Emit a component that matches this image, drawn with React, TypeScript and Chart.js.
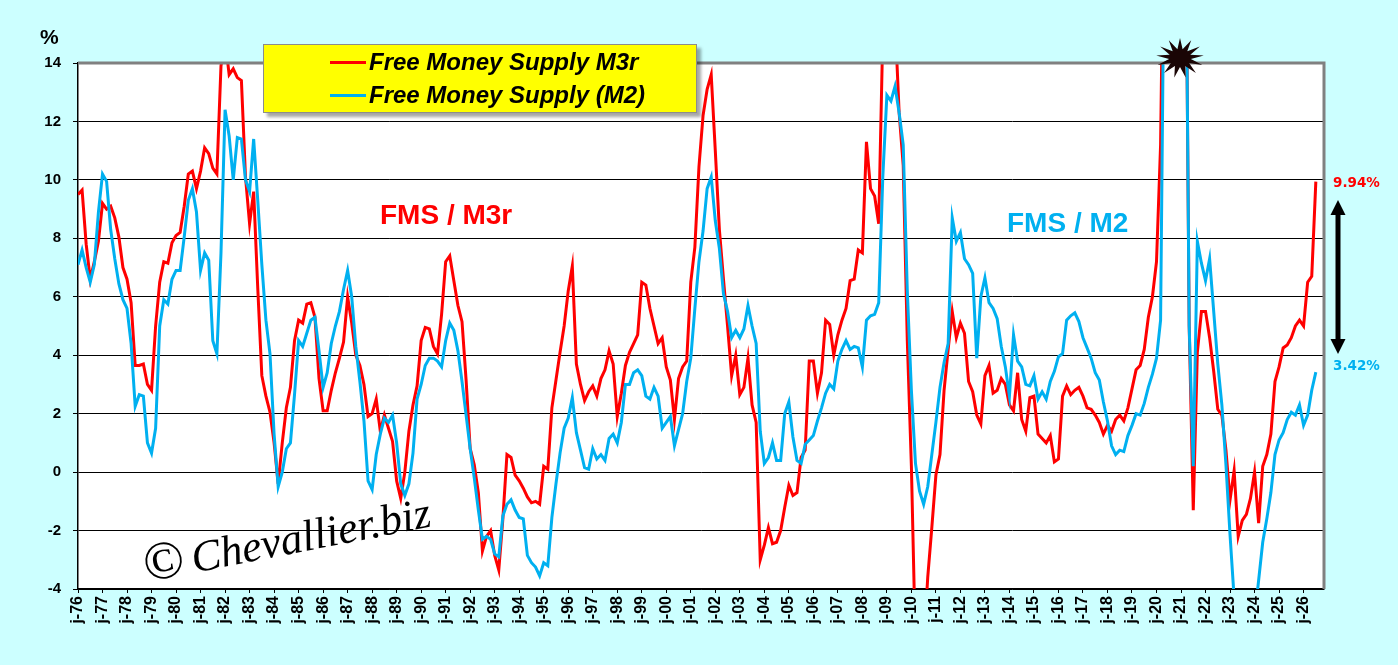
import { useEffect, useRef } from 'react'
import { Chart, registerables } from 'chart.js'

Chart.register(...registerables)

// bimonthly readings from Jan 1976, % y/y
const fmsM3r = [
  9.5, 9.65, 7.8, 6.6, 7.2, 7.9, 9.2, 9.0, 9.1, 8.7, 8.05, 7.0, 6.6, 5.8, 3.65, 3.65, 3.7, 3.0, 2.8, 5.0,
  6.5, 7.2, 7.15, 7.85, 8.1, 8.2, 9.1, 10.2, 10.3, 9.7, 10.3, 11.1, 10.9, 10.4, 10.2, 13.9, 14.8, 13.6, 13.8, 13.5,
  13.4, 10.1, 8.5, 9.6, 6.3, 3.3, 2.6, 2.05, 1.0, -0.4, 1.0, 2.2, 2.9, 4.5, 5.2, 5.1, 5.75, 5.8, 5.3, 3.2,
  2.1, 2.1, 2.8, 3.4, 3.9, 4.45, 6.0, 5.1, 4.0, 3.65, 3.0, 1.9, 2.0, 2.5, 1.4, 1.95, 1.5, 1.05, -0.3, -0.9,
  0.0, 1.4, 2.3, 2.95, 4.5, 4.95, 4.9, 4.3, 4.05, 5.4, 7.2, 7.4, 6.55, 5.7, 5.15, 3.15, 0.8, 0.25, -0.7, -2.7,
  -2.2, -2.0, -2.85, -3.35, -1.6, 0.6, 0.5, -0.1, -0.3, -0.55, -0.85, -1.05, -1.0, -1.1, 0.2, 0.1, 2.2, 3.15, 4.1, 5.0,
  6.2, 7.05, 3.7, 3.0, 2.45, 2.75, 2.95, 2.6, 3.2, 3.5, 4.15, 3.7, 1.9, 2.7, 3.65, 4.1, 4.4, 4.7, 6.5, 6.4,
  5.6, 5.0, 4.4, 4.6, 3.6, 3.15, 1.8, 3.2, 3.6, 3.8, 6.5, 7.7, 10.45, 12.2, 13.1, 13.6, 11.0, 8.3, 6.6, 5.0,
  3.3, 4.0, 2.65, 2.9, 3.9, 2.3, 1.7, -3.0, -2.5, -1.9, -2.45, -2.4, -2.0, -1.2, -0.45, -0.8, -0.7, 0.5, 0.75, 3.8,
  3.8, 2.7, 3.4, 5.2, 5.05, 4.0, 4.7, 5.2, 5.6, 6.55, 6.6, 7.6, 7.5, 11.3, 9.7, 9.45, 8.5, 15, 17, 17,
  15.5, 12.3, 10.5, 4.5, 0.2, -6, -6, -6, -3.6, -1.9, -0.1, 0.6, 2.8, 4.2, 5.5, 4.6, 5.1, 4.75, 3.1, 2.75,
  1.95, 1.65, 3.3, 3.65, 2.7, 2.8, 3.2, 3.0, 2.3, 2.1, 3.4, 1.8, 1.4, 2.55, 2.6, 1.3, 1.15, 1.0, 1.25, 0.35,
  0.45, 2.6, 2.95, 2.65, 2.8, 2.9, 2.6, 2.2, 2.15, 1.95, 1.7, 1.3, 1.6, 1.4, 1.8, 1.95, 1.75, 2.2, 2.85, 3.5,
  3.65, 4.2, 5.3, 6.0, 7.2, 11.2, 22, 26, 28, 28, 26, 22, 5, -1.3, 4.1, 5.5, 5.5, 4.6, 3.45, 2.15,
  1.95, 0.75, -0.95, 0.05, -2.2, -1.65, -1.45, -0.9, 0.0, -1.75, 0.2, 0.6, 1.3, 3.1, 3.6, 4.25, 4.35, 4.6, 5.0, 5.2,
  5.0, 6.5, 6.7, 9.94,
]

const fmsM2 = [
  7.1, 7.6, 7.0, 6.5, 7.1, 8.9, 10.2, 9.95, 8.3, 7.3, 6.45, 5.9, 5.6, 4.4, 2.25, 2.65, 2.6, 1.0, 0.65, 1.5,
  5.0, 5.9, 5.75, 6.6, 6.9, 6.9, 8.05, 9.3, 9.7, 8.9, 6.9, 7.5, 7.25, 4.5, 4.05, 7.5, 12.4, 11.5, 10.0, 11.45,
  11.4, 10.0, 9.6, 11.4, 9.3, 7.1, 5.2, 4.05, 1.3, -0.5, 0.0, 0.8, 1.0, 2.65, 4.5, 4.3, 4.75, 5.2, 5.3, 4.15,
  2.9, 3.4, 4.4, 5.0, 5.5, 6.25, 6.9, 6.0, 4.3, 3.1, 1.75, -0.3, -0.6, 0.6, 1.3, 1.85, 1.7, 1.95, 1.0, -0.4,
  -0.8, -0.4, 0.65, 2.5, 3.0, 3.65, 3.9, 3.9, 3.8, 3.6, 4.5, 5.1, 4.85, 4.15, 3.1, 1.95, 0.8, -0.2, -1.3, -2.3,
  -2.2, -2.3, -2.8, -2.9, -1.5, -1.1, -0.95, -1.3, -1.55, -1.6, -2.85, -3.1, -3.25, -3.55, -3.1, -3.2, -1.55, -0.4, 0.65, 1.5,
  1.85, 2.55, 1.35, 0.75, 0.15, 0.1, 0.8, 0.45, 0.6, 0.4, 1.15, 1.3, 1.0, 1.7, 3.0, 3.0, 3.4, 3.5, 3.3, 2.6,
  2.5, 2.9, 2.6, 1.5, 1.7, 1.9, 0.9, 1.45, 2.0, 3.1, 3.9, 5.6, 7.2, 8.25, 9.7, 10.1, 8.6, 7.65, 6.1, 5.5,
  4.6, 4.85, 4.6, 4.9, 5.7, 5.0, 4.4, 1.4, 0.3, 0.5, 1.0, 0.4, 0.4, 2.0, 2.4, 1.2, 0.4, 0.3, 0.95, 1.1,
  1.25, 1.75, 2.2, 2.7, 3.0, 2.85, 3.8, 4.2, 4.5, 4.2, 4.3, 4.25, 3.6, 5.2, 5.35, 5.4, 5.8, 10.1, 12.9, 12.7,
  13.2, 12.3, 11.2, 6.2, 2.8, 0.3, -0.65, -1.1, -0.5, 0.6, 1.7, 2.9, 3.75, 4.4, 8.7, 7.9, 8.2, 7.3, 7.1, 6.8,
  3.9, 6.0, 6.65, 5.8, 5.6, 5.25, 4.3, 3.6, 2.6, 4.7, 3.8, 3.6, 3.0, 2.95, 3.3, 2.5, 2.75, 2.5, 3.1, 3.45,
  3.95, 4.05, 5.2, 5.35, 5.45, 5.15, 4.6, 4.25, 3.9, 3.4, 3.15, 2.4, 1.75, 0.9, 0.6, 0.75, 0.7, 1.25, 1.6, 2.0,
  1.95, 2.35, 2.9, 3.35, 3.9, 5.2, 20, 26, 28, 28, 26, 22, 5, 0.2, 7.9, 7.15, 6.55, 7.3, 5.5, 3.7,
  2.3, 0.25, -2.15, -4.3, -6, -6.5, -6.5, -6, -5, -3.7, -2.4, -1.6, -0.7, 0.6, 1.1, 1.35, 1.8, 2.05, 1.95, 2.3,
  1.6, 1.95, 2.8, 3.42,
]

const seriesNames = ['Free Money Supply M3r', 'Free Money Supply (M2)']
const START_YY = 76
const STEP_MONTHS = 2
const yearLabels = Array.from({ length: 51 }, (_, k) => 'j-' + String((START_YY + k) % 100).padStart(2, '0'))

const C = {
  bg: '#CCFFFF',
  red: '#FF0000',
  blue: '#00B0F0',
  frame: '#808080',
  ink: '#000000',
}

const ARIAL = "'Liberation Sans', Arial, sans-serif"
const VERDANA = "'DejaVu Sans', Verdana, sans-serif"

const toPoints = (vals: number[]) => vals.map((y, i) => ({ x: i * STEP_MONTHS, y }))

const plotFrame = {
  id: 'plotFrame',
  beforeDraw(chart: any) {
    const { ctx, chartArea: a } = chart
    ctx.save()
    ctx.fillStyle = '#FFFFFF'
    ctx.fillRect(a.left, a.top, a.right - a.left, a.bottom - a.top)
    ctx.restore()
  },
  afterDatasetsDraw(chart: any) {
    const { ctx, chartArea: a } = chart
    ctx.save()
    ctx.strokeStyle = C.frame
    ctx.lineWidth = 3
    ctx.beginPath()
    ctx.moveTo(a.left, a.top)
    ctx.lineTo(a.right, a.top)
    ctx.lineTo(a.right, a.bottom)
    ctx.stroke()
    ctx.restore()
  },
}

function starPoints(cx: number, cy: number, n: number, rx: number, ry: number, ix: number, iy: number) {
  const pts: string[] = []
  for (let k = 0; k < n * 2; k++) {
    const ang = (Math.PI * k) / n - Math.PI / 2
    const out = k % 2 === 0
    pts.push(`${(cx + Math.cos(ang) * (out ? rx : ix)).toFixed(1)},${(cy + Math.sin(ang) * (out ? ry : iy)).toFixed(1)}`)
  }
  return pts.join(' ')
}

const abs = (left: number, top: number, extra: React.CSSProperties = {}): React.CSSProperties => ({
  position: 'absolute', left, top, whiteSpace: 'nowrap', ...extra,
})

export default function App() {
  const canvasRef = useRef<HTMLCanvasElement>(null)
  const chartRef = useRef<Chart | null>(null)

  useEffect(() => {
    if (!canvasRef.current) return
    if (chartRef.current) { chartRef.current.destroy(); chartRef.current = null }

    chartRef.current = new Chart(canvasRef.current, {
      type: 'line',
      data: {
        datasets: [
          {
            label: seriesNames[0],
            data: toPoints(fmsM3r),
            borderColor: C.red,
            backgroundColor: C.red,
            borderWidth: 3,
            pointRadius: 0,
            order: 1,
          },
          {
            label: seriesNames[1],
            data: toPoints(fmsM2),
            borderColor: C.blue,
            backgroundColor: C.blue,
            borderWidth: 3,
            pointRadius: 0,
            order: 0,
          },
        ],
      },
      options: {
        animation: false,
        responsive: true,
        maintainAspectRatio: false,
        layout: { padding: { top: 63, right: 74, left: 0, bottom: 0 } },
        plugins: { legend: { display: false }, tooltip: { enabled: false } },
        scales: {
          x: {
            type: 'linear',
            min: 0,
            max: 610,
            afterFit: (s: any) => { s.height = 76 },
            afterBuildTicks: (s: any) => { s.ticks = yearLabels.map((_, k) => ({ value: k * 12 })) },
            grid: { display: true, drawOnChartArea: false, drawTicks: true, tickLength: 4, color: C.ink },
            border: { display: true, color: C.ink, width: 1.5 },
            ticks: {
              autoSkip: false,
              minRotation: 90,
              maxRotation: 90,
              padding: 3,
              color: C.ink,
              font: { family: ARIAL, size: 16, weight: 'bold' },
              callback: (v: any) => yearLabels[Math.round(Number(v) / 12)],
            },
          },
          y: {
            min: -4,
            max: 14,
            afterFit: (s: any) => { s.width = 78 },
            grid: { color: C.ink, lineWidth: 1, drawTicks: true, tickLength: 5 },
            border: { display: true, color: C.ink, width: 1.5 },
            ticks: {
              stepSize: 2,
              padding: 12,
              color: C.ink,
              font: { family: ARIAL, size: 15, weight: 'bold' },
            },
          },
        },
      },
      plugins: [plotFrame],
    } as any)

    return () => { chartRef.current?.destroy(); chartRef.current = null }
  }, [])

  const legendText: React.CSSProperties = {
    fontFamily: ARIAL, fontWeight: 'bold', fontStyle: 'italic', fontSize: 24, color: C.ink, lineHeight: '26px',
  }
  const swatch = (color: string): React.CSSProperties => ({ width: 36, height: 3, background: color, marginRight: 3 })
  const bigLabel = (color: string): React.CSSProperties => ({ fontFamily: ARIAL, fontWeight: 'bold', fontSize: 28, color })
  const sideLabel = (color: string): React.CSSProperties => ({ fontFamily: VERDANA, fontWeight: 'bold', fontSize: 13.5, color })

  return (
    <div style={{ position: 'fixed', left: 0, top: 0, width: 1398, height: 665, background: C.bg, overflow: 'hidden' }}>
      <div style={{ position: 'absolute', left: 0, top: 0, width: 1398, height: 665 }}>
        <canvas ref={canvasRef} />
      </div>

      <div style={abs(40, 25, { fontFamily: ARIAL, fontWeight: 'bold', fontSize: 21, color: C.ink })}>%</div>

      <div style={abs(263, 44, {
        width: 432, height: 67, background: '#FFFF00', border: '1px solid #8C8C8C',
        boxShadow: '4px 4px 3px rgba(0,0,0,0.35)',
      })}>
        <div style={{ position: 'absolute', left: 66, top: 4, display: 'flex', alignItems: 'center' }}>
          <div style={swatch(C.red)} />
          <span style={legendText}>{seriesNames[0]}</span>
        </div>
        <div style={{ position: 'absolute', left: 66, top: 37, display: 'flex', alignItems: 'center' }}>
          <div style={swatch(C.blue)} />
          <span style={legendText}>{seriesNames[1]}</span>
        </div>
      </div>

      <div style={abs(380, 199, bigLabel(C.red))}>FMS / M3r</div>
      <div style={abs(1007, 207, bigLabel(C.blue))}>FMS / M2</div>

      <div style={abs(1333, 174, sideLabel(C.red))}>9.94%</div>
      <div style={abs(1333, 357, sideLabel(C.blue))}>3.42%</div>

      <svg style={abs(1326, 198)} width={24} height={158}>
        <rect x={9.5} y={14} width={5} height={130} fill={C.ink} />
        <polygon points="12,2 19.5,17 4.5,17" fill={C.ink} />
        <polygon points="12,156 19.5,141 4.5,141" fill={C.ink} />
      </svg>

      <svg style={abs(1154, 36)} width={52} height={44}>
        <polygon points={starPoints(26, 22, 13, 24, 20, 11, 9)} fill="#1A0505" />
      </svg>

      <svg style={abs(120, 470)} width={340} height={130}>
        <text
          x={26} y={112}
          transform="rotate(-11 26 112)"
          fontFamily="'Liberation Serif', 'DejaVu Serif', serif"
          fontStyle="italic"
          fill={C.ink}
        >
          <tspan fontSize={54}>©</tspan>
          <tspan fontSize={44} dx={8}>Chevallier.biz</tspan>
        </text>
      </svg>
    </div>
  )
}
